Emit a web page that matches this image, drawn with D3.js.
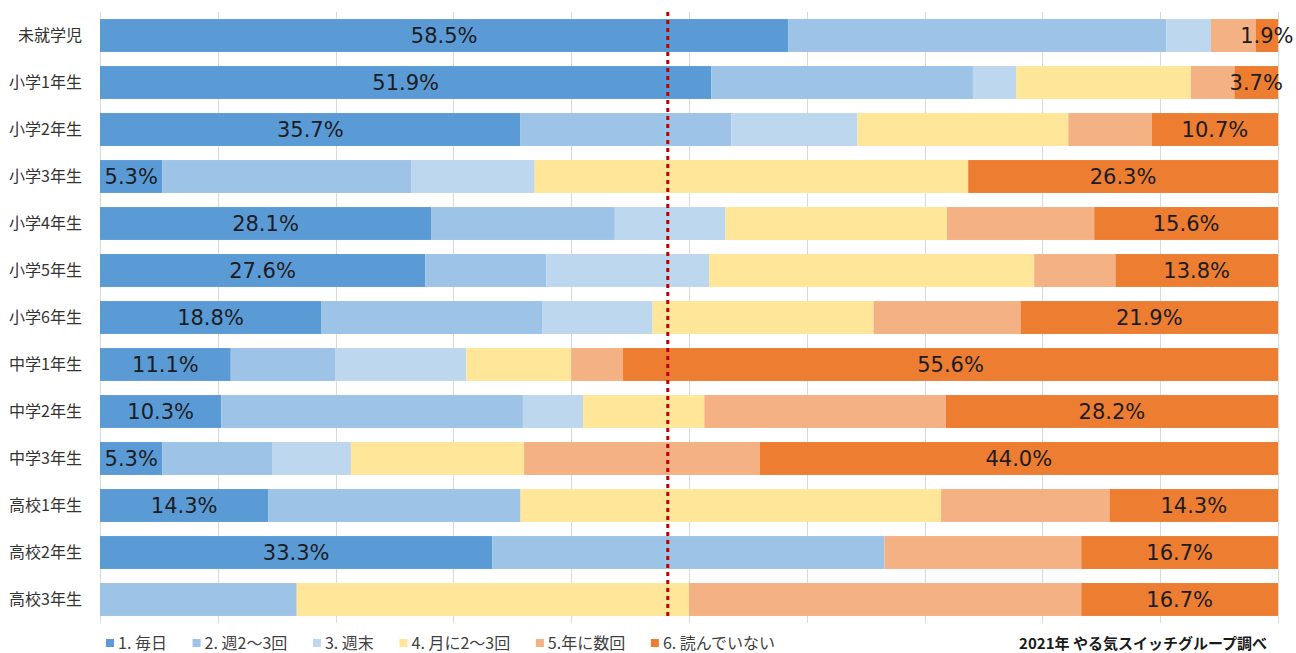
<!DOCTYPE html>
<html>
<head>
<meta charset="utf-8">
<script src="https://cdn.jsdelivr.net/npm/d3@7"></script>
<style>
  body { margin: 0; background: #fff; }
  svg text { font-family: "Noto Sans CJK JP", "Noto Sans", sans-serif; }
</style>
</head>
<body>
<div id="chart"></div>
<script>
// 読書頻度 (学年別) 100%積み上げ横棒

const categories = ["未就学児", "小学1年生", "小学2年生", "小学3年生", "小学4年生", "小学5年生", "小学6年生",
    "中学1年生", "中学2年生", "中学3年生", "高校1年生", "高校2年生", "高校3年生"];

const seriesNames = ["1. 毎日", "2. 週2〜3回", "3. 週末", "4. 月に2〜3回", "5.年に数回", "6. 読んでいない"];

// values in %
const daily      = [58.5, 51.9, 35.7, 5.3, 28.1, 27.6, 18.8, 11.1, 10.3, 5.3, 14.3, 33.3, 0];
const twiceWeek  = [32.1, 22.2, 17.9, 21.1, 15.6, 10.3, 18.8, 8.9, 25.6, 9.3, 21.4, 33.3, 16.7];
const weekend    = [3.8, 3.7, 10.7, 10.5, 9.4, 13.8, 9.4, 11.1, 5.1, 6.7, 0, 0, 0];
const monthly    = [0, 14.8, 17.9, 36.8, 18.8, 27.6, 18.8, 8.9, 10.3, 14.7, 35.7, 0, 33.3];
const yearly     = [3.8, 3.7, 7.1, 0, 12.5, 6.9, 12.5, 4.4, 20.5, 20.0, 14.3, 16.7, 33.3];
const notReading = [1.9, 3.7, 10.7, 26.3, 15.6, 13.8, 21.9, 55.6, 28.2, 44.0, 14.3, 16.7, 16.7];

const refLine = 0.482;   // red dotted marker
const xTicks = d3.range(0, 1.0001, 0.1);
const sourceText = "2021年 やる気スイッチグループ調べ";

const colors = ["#5b9bd5", "#9dc3e6", "#bdd7ee", "#ffe699", "#f4b183", "#ed7d31"];
const labelled = [0, 5]; // only first and last series get data labels

// build rows
const allSeries = [daily, twiceWeek, weekend, monthly, yearly, notReading];
let rows = categories.map((c, i) => {
    let r = {cat: c};
    seriesNames.forEach((s, j) => r[s] = allSeries[j][i]);
    return r;
});

let width = 1296, height = 653;
let margin = {top: 12, right: 18, bottom: 30, left: 100};

let svg = d3.select("#chart").append("svg")
    .attr("width", width)
    .attr("height", height);

let x = d3.scaleLinear()
    .domain([0, 1])
    .range([margin.left, width - margin.right]);

let y = d3.scaleBand()
    .domain(categories)
    .range([margin.top, height - margin.bottom])
    .paddingInner(0.3)
    .paddingOuter(0.15);

// gridlines
svg.append("g")
    .attr("class", "grid")
    .selectAll("line")
    .data(xTicks)
    .join("line")
    .attr("x1", d => Math.round(x(d)) + 0.5)
    .attr("x2", d => Math.round(x(d)) + 0.5)
    .attr("y1", margin.top)
    .attr("y2", height - margin.bottom)
    .attr("stroke", "#d9d9d9")
    .attr("stroke-width", 1);

let stack = d3.stack()
    .keys(seriesNames)
    .offset(d3.stackOffsetExpand);
let stacked = stack(rows);

// bars
let layers = svg.append("g")
    .selectAll("g")
    .data(stacked)
    .join("g")
    .attr("fill", (d, i) => colors[i]);

layers.selectAll("rect")
    .data(d => d)
    .join("rect")
    .attr("x", d => x(d[0]))
    .attr("y", d => y(d.data.cat))
    .attr("width", d => x(d[1]) - x(d[0]))
    .attr("height", y.bandwidth());

// data labels
labelled.forEach(si => {
    let layer = stacked[si];
    svg.append("g")
        .selectAll("text")
        .data(layer.filter(d => d.data[seriesNames[si]] > 0))
        .join("text")
        .attr("x", d => (x(d[0]) + x(d[1])) / 2)
        .attr("y", d => y(d.data.cat) + y.bandwidth() / 2)
        .attr("dy", "0.37em")
        .attr("text-anchor", "middle")
        .attr("font-size", 21)
        .attr("fill", "#1c1c24")
        .style("font-family", '"DejaVu Sans", sans-serif')
        .text(d => d.data[seriesNames[si]].toFixed(1) + "%");
});

// category axis
let yAxis = d3.axisLeft(y).tickSize(0).tickPadding(18);
let yg = svg.append("g")
    .attr("transform", `translate(${margin.left}, 0)`)
    .call(yAxis);
yg.select(".domain").remove();
yg.selectAll("text")
    .attr("font-size", 16)
    .attr("fill", "#333")
    .style("font-family", '"Noto Sans CJK JP", sans-serif');

// red dotted reference line
svg.append("line")
    .attr("x1", x(refLine))
    .attr("x2", x(refLine))
    .attr("y1", margin.top)
    .attr("y2", y(categories[categories.length - 1]) + y.bandwidth())
    .attr("stroke", "#c00000")
    .attr("stroke-width", 3)
    .attr("stroke-dasharray", "4 4");

// legend - spread items between left edge and ~775px
let legend = svg.append("g").attr("class", "legend");
let lx = 106, ly = 643, legendEnd = 775;
let items = seriesNames.map((s, i) => {
    let g = legend.append("g");
    g.append("rect")
        .attr("y", ly - 4)
        .attr("width", 8)
        .attr("height", 8)
        .attr("fill", colors[i]);
    let t = g.append("text")
        .attr("x", 12)
        .attr("y", ly)
        .attr("dy", "0.35em")
        .attr("font-size", 16)
        .attr("fill", "#404040")
        .text(s);
    return {g: g, w: 12 + t.node().getComputedTextLength()};
});
let gap = (legendEnd - lx - d3.sum(items, d => d.w)) / (items.length - 1);
items.forEach(it => {
    it.g.attr("transform", `translate(${lx}, 0)`);
    lx += it.w + gap;
});

// source note
svg.append("text")
    .attr("x", 1267)
    .attr("y", 644)
    .attr("dy", "0.35em")
    .attr("text-anchor", "end")
    .attr("font-size", 15)
    .attr("font-weight", "bold")
    .attr("fill", "#1a1a1a")
    .text(sourceText);
</script>
</body>
</html>
